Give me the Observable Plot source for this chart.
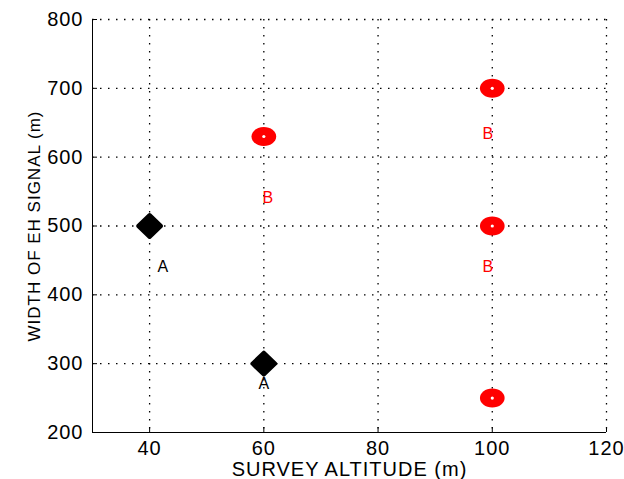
<!DOCTYPE html>
<html><head><meta charset="utf-8">
<script src="https://cdn.jsdelivr.net/npm/d3@7"></script>
<script src="https://cdn.jsdelivr.net/npm/@observablehq/plot@0.6"></script>
<style>body{margin:0;background:#fff}</style>
</head><body><div id="chart"></div>
<script>
const xTicks = [40, 60, 80, 100, 120];
const yTicks = [200, 300, 400, 500, 600, 700, 800];
const groupAAltitude = [40, 60];
const groupAWidth = [500, 300];
const groupBAltitude = [60, 100, 100, 100];
const groupBWidth = [630, 700, 500, 250];
const labelText = ["A", "A", "B", "B", "B"];
const labelAltitude = [42.4, 60.1, 60.8, 99.3, 99.3];
const labelWidth = [441, 271, 541, 634, 440];

const groupA = groupAAltitude.map((x, i) => ({x, y: groupAWidth[i]}));
const groupB = groupBAltitude.map((x, i) => ({x, y: groupBWidth[i]}));
const labels = labelText.map((t, i) => ({t, x: labelAltitude[i], y: labelWidth[i]}));

const ellipseSymbol = {draw(ctx, size) {
  const r = Math.sqrt(size / Math.PI), rx = r * 1.3, ry = r, k = 0.5523;
  ctx.moveTo(rx, 0);
  ctx.bezierCurveTo(rx, ry * k, rx * k, ry, 0, ry);
  ctx.bezierCurveTo(-rx * k, ry, -rx, ry * k, -rx, 0);
  ctx.bezierCurveTo(-rx, -ry * k, -rx * k, -ry, 0, -ry);
  ctx.bezierCurveTo(rx * k, -ry, rx, -ry * k, rx, 0);
  ctx.closePath();
}};
const diamondSymbol = {draw(ctx, size) {
  const r = Math.sqrt(size / Math.PI);
  ctx.moveTo(0, -r); ctx.lineTo(r * 1.04, 0); ctx.lineTo(0, r); ctx.lineTo(-r * 1.04, 0); ctx.closePath();
}};

const chart = Plot.plot({
  width: 624, height: 479,
  marginLeft: 92, marginRight: 18, marginTop: 19, marginBottom: 47,
  style: {fontFamily: "'Liberation Sans', Arial, sans-serif", fontSize: "20px", color: "#000", background: "#fff", letterSpacing: "1px"},
  x: {domain: [30, 120]},
  y: {domain: [200, 800]},
  marks: [
    Plot.gridX(xTicks, {stroke: "#000", strokeOpacity: 1, strokeDasharray: "1.5,6.5", strokeWidth: 1.3}),
    Plot.gridY(yTicks.slice(1), {stroke: "#000", strokeOpacity: 1, strokeDasharray: "1.5,6.5", strokeWidth: 1.3}),
    Plot.ruleX([30], {stroke: "#000"}),
    Plot.ruleY([200], {stroke: "#000"}),
    Plot.axisX(xTicks, {tickSize: -5, tickPadding: 13, label: "SURVEY ALTITUDE (m)", labelAnchor: "center", labelOffset: 43, labelArrow: "none"}),
    Plot.axisY(yTicks, {tickSize: -5, tickPadding: 14, label: null}),
    Plot.axisY(yTicks, {tickSize: 0, text: null, ticks: [], label: "WIDTH OF EH SIGNAL (m)", labelAnchor: "center", labelOffset: 65, labelArrow: "none", fontSize: 17, letterSpacing: "0px"}),
    Plot.dot(groupA, {x: "x", y: "y", r: 11, symbol: diamondSymbol, fill: "#000", stroke: "#000", strokeWidth: 4, strokeLinejoin: "round"}),
    Plot.dot(groupB, {x: "x", y: "y", r: 9.5, symbol: ellipseSymbol, fill: "#ff0000", stroke: "none"}),
    Plot.dot(groupB, {x: "x", y: "y", r: 1.6, fill: "#fff", stroke: "none"}),
    Plot.text(labels, {x: "x", y: "y", text: "t", fontSize: 16, letterSpacing: "0px", fill: d => d.t === "A" ? "#000" : "#ff0000"})
  ]
});
document.getElementById("chart").appendChild(chart);
</script>
</body></html>
